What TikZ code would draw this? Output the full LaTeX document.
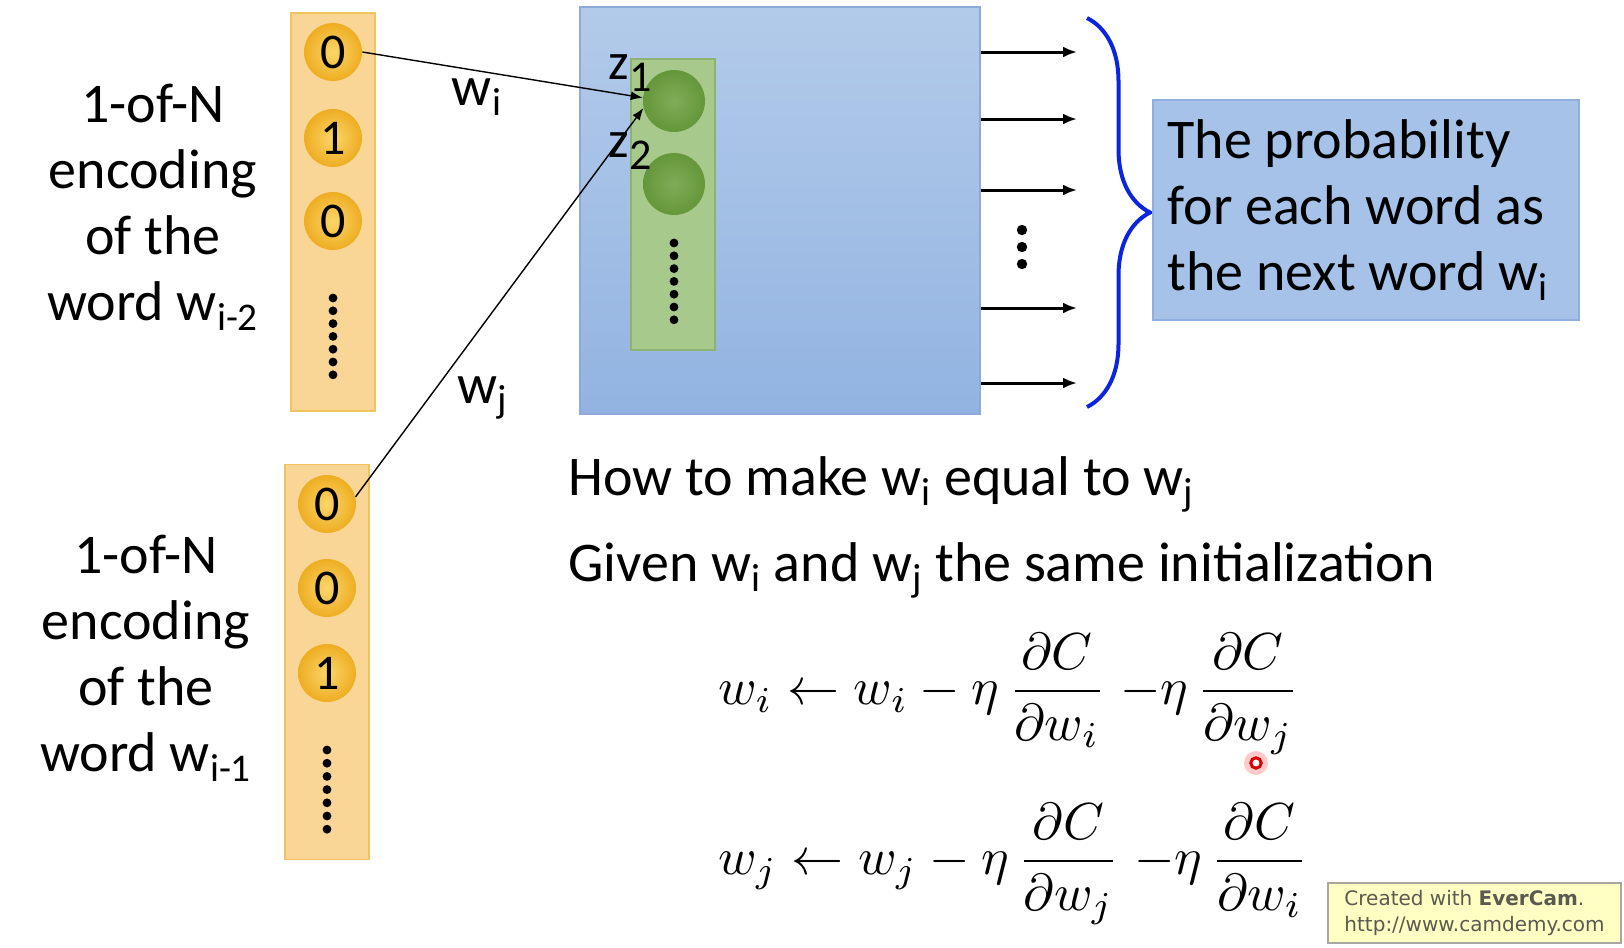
\documentclass[tikz,border=0pt]{standalone}
\usepackage{fontspec}
\setmainfont{Carlito}
\newfontfamily\wmfont{DejaVu Sans}
\usetikzlibrary{arrows.meta,decorations.pathreplacing}
\definecolor{obox}{HTML}{F9D696}
\definecolor{oboxline}{HTML}{F2C25E}
\definecolor{ocirc}{HTML}{EEAD22}
\definecolor{ocircin}{HTML}{FBD66A}
\definecolor{bboxtop}{HTML}{B3CBEA}
\definecolor{bboxbot}{HTML}{92B3E1}
\definecolor{bboxline}{HTML}{8DAADB}
\definecolor{gbox}{HTML}{A8C98C}
\definecolor{gboxline}{HTML}{8EB272}
\definecolor{gcirc}{HTML}{64963A}
\definecolor{gcircin}{HTML}{80AC58}
\definecolor{bracecol}{HTML}{0A24E0}
\definecolor{pbox}{HTML}{A6C2E8}
\definecolor{pboxline}{HTML}{8EAEDC}
\definecolor{wmfill}{HTML}{FFFFC4}
\definecolor{wmline}{HTML}{A8A8A0}
\definecolor{wmtext}{HTML}{5A5A50}
\newcommand{\bigeq}[1]{\scalebox{2.6}{$\displaystyle #1$}}
\begin{document}
\begin{tikzpicture}[x=0.5pt,y=-0.5pt,
  bigtext/.style={font=\fontsize{28}{33}\selectfont},
  obox/.style={draw=oboxline, fill=obox, line width=0.75pt, minimum width=42pt, inner sep=0pt},
  ocirc/.style={circle, minimum size=29pt, inner sep=0pt, inner color=ocircin, outer color=ocirc, font=\fontsize{25}{25}\selectfont},
  bluebox/.style={draw=bboxline, line width=0.75pt, top color=bboxtop, bottom color=bboxbot, minimum width=200pt, minimum height=203.5pt, inner sep=0pt},
  greenbox/.style={draw=gboxline, fill=gbox, line width=0.75pt, minimum width=42pt, minimum height=145.5pt, inner sep=0pt},
  gcircle/.style={circle, minimum size=31pt, inner sep=0pt, inner color=gcircin, outer color=gcirc},
  thinarrow/.style={line width=0.7pt, -{Latex[length=6pt,width=4.5pt]}},
  outarrow/.style={line width=1.5pt, -{Latex[length=7pt,width=5.5pt]}},
  dotfill/.style={fill=black},
  zlabel/.style={font=\fontsize{26}{26}\selectfont, inner sep=0pt},
  probbox/.style={draw=pboxline, fill=pbox, line width=0.75pt, minimum width=213pt, minimum height=110pt, inner sep=0pt},
  wmbox/.style={draw=wmline, fill=wmfill, line width=1pt, minimum width=146.5pt, minimum height=30pt, align=left, inner sep=0pt, text=wmtext, font=\wmfont\fontsize{10}{13}\selectfont}
]
\useasboundingbox (0,0) rectangle (1624,948);

% left text
\node[bigtext, align=center] (t1) at (153,207) {1-of-N\\encoding\\of the\\word w\textsubscript{i-2}};
\node[bigtext, align=center] (t2) at (146,658) {1-of-N\\encoding\\of the\\word w\textsubscript{i-1}};

% orange boxes
\node[obox, minimum height=199pt] (ob1) at (333,212) {};
\node[obox, minimum height=197.5pt] (ob2) at (327,662) {};
\node[ocirc] (o1a) at (333,52) {0};
\node[ocirc] (o1b) at (333,138) {1};
\node[ocirc] (o1c) at (333,221) {0};
\node[ocirc] (o2a) at (327,504) {0};
\node[ocirc] (o2b) at (327,588) {0};
\node[ocirc] (o2c) at (327,673) {1};
\foreach \k in {0,...,6} \fill[dotfill] (333,298+\k*12.8) circle[radius=2.2pt];
\foreach \k in {0,...,6} \fill[dotfill] (327,750+\k*13.2) circle[radius=2.2pt];

% blue box
\node[bluebox] (bb) at (780,210.5) {};
\node[greenbox] (gb) at (673,204.5) {};
\node[gcircle] (g1) at (674,101) {};
\node[gcircle] (g2) at (674,184) {};
\foreach \k in {0,...,6} \fill[dotfill] (674,243+\k*12.8) circle[radius=2.2pt];
\node[zlabel] (z1) at (630,73) {z\raisebox{-6pt}{\fontsize{22}{22}\selectfont 1}};
\node[zlabel] (z2) at (630,151) {z\raisebox{-6pt}{\fontsize{22}{22}\selectfont 2}};

% input arrows
\draw[thinarrow] (o1a.east) -- (g1.174);
\draw[thinarrow] (o2a.14) -- (g1.193);
\node[bigtext] (wi) at (477,97) {w\textsubscript{i}};
\node[bigtext] (wj) at (483,398) {w\textsubscript{j}};

% output arrows
\foreach \n/\yy in {1/52,2/119,3/190,4/308,5/383} {
  \coordinate (r\n) at (1077,\yy);
  \draw[outarrow] (bb.east |- r\n) -- (r\n);
}
\foreach \k in {0,1,2} \fill[dotfill] (1022,230+\k*17) circle[radius=2.6pt];

% brace
\coordinate (brt) at (1087,18);
\coordinate (brb) at (1087,407);
\draw[bracecol, line width=2pt, decorate, decoration={brace, amplitude=31.5pt, aspect=0.5}] (brt) -- (brb);

% probability box
\node[probbox] (pb) at (1366,210) {};
\node[bigtext, align=left, inner sep=0pt] (pt) at (1358,210) {The probability\\for each word as\\the next word w\textsubscript{i}};

% bottom texts
\node[bigtext, anchor=west, inner sep=0pt] (h1) at (568,484) {How to make w\textsubscript{i} equal to w\textsubscript{j}};
\node[bigtext, anchor=west, inner sep=0pt] (h2) at (568,570) {Given w\textsubscript{i} and w\textsubscript{j} the same initialization};

% equations
\node[anchor=west, inner sep=0pt] (eq1) at (718,694)
  {\bigeq{w_i \leftarrow w_i - \eta\,\frac{\partial C}{\partial w_i} \;{-\eta}\,\frac{\partial C}{\partial w_j}}};
\node[anchor=west, inner sep=0pt] (eq2) at (718,864)
  {\bigeq{w_j \leftarrow w_j - \eta\,\frac{\partial C}{\partial w_j} \;{-\eta}\,\frac{\partial C}{\partial w_i}}};

% cursor mark
\fill[red!35, opacity=0.6] (1256,763) circle[radius=6pt];
\draw[red!85!black, line width=1.5pt, fill=white] (1256,763) circle[radius=2.6pt];

% watermark
\node[wmbox] (wm) at (1474.5,913) {Created with \textbf{EverCam}.\\http://www.camdemy.com};
\end{tikzpicture}
\end{document}
